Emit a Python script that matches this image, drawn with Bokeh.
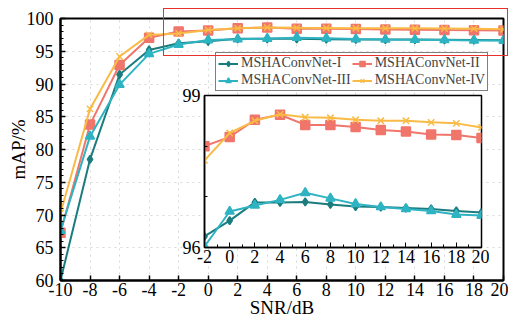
from bokeh.plotting import figure
from bokeh.models import Range1d, FixedTicker, Legend, LegendItem, Div
from bokeh.layouts import column
from bokeh.embed import file_html
from bokeh.resources import INLINE

snr = [-10, -8, -6, -4, -2, 0, 2, 4, 6, 8, 10, 12, 14, 16, 18, 20]
net1 = [60.0, 78.5, 91.45, 95.2, 96.22, 96.53, 96.89, 96.89, 96.90, 96.85, 96.81, 96.80, 96.78, 96.76, 96.72, 96.69]
net2 = [67.3, 83.8, 92.9, 97.05, 98.0, 98.18, 98.52, 98.62, 98.42, 98.42, 98.38, 98.32, 98.29, 98.23, 98.22, 98.16]
net3 = [67.6, 82.0, 89.9, 94.6, 96.02, 96.71, 96.83, 96.94, 97.08, 96.97, 96.86, 96.80, 96.76, 96.72, 96.65, 96.63]
net4 = [70.3, 86.2, 94.2, 97.5, 97.72, 98.26, 98.50, 98.63, 98.57, 98.56, 98.52, 98.50, 98.50, 98.47, 98.45, 98.37]
names = ["MSHAConvNet-I", "MSHAConvNet-II", "MSHAConvNet-III", "MSHAConvNet-IV"]

x_ticks = list(range(-10, 21, 2))
y_ticks = [60, 65, 70, 75, 80, 85, 90, 95, 100]
y_minor = list(range(60, 101))
inset_x_ticks = list(range(-2, 21, 2))
inset_x_minor = list(range(-2, 21))
inset_y_ticks = [96, 99]
inset_y_minor = [96, 97, 98, 99]
highlight = dict(left=-2.82, right=20.53, bottom=94.2, top=101.6)

colors = ["#1b7c7e", "#f0756b", "#2eb3c2", "#f9bb45"]
markers = ["diamond", "square", "triangle", "x"]
msizes = [8, 9, 9, 9]
series = [net1, net2, net3, net4]
FONT = "Liberation Serif"

# layout geometry (pixels)
FL, FT, FW, FH = 57, 18, 443, 262
XMIN, XMAX, YMIN, YMAX = -10, 20, 60, 100
# inset frame geometry (pixels)
IL, IT, IW, IH = 204, 95, 281, 152
IB_LEFT, IB_TOP, IB_RIGHT, IB_BOTTOM = 60, 12, 4, 20


def hyphen_labels(ticks):
    return {t: str(t) for t in ticks}


p = figure(frame_width=FW, frame_height=FH, output_backend="svg", toolbar_location=None,
           x_range=Range1d(XMIN, XMAX), y_range=Range1d(YMIN, YMAX),
           min_border_left=FL, min_border_right=8, min_border_top=FT, min_border_bottom=39)
p.outline_line_color = "black"
p.outline_line_width = 2
p.background_fill_color = "white"
p.border_fill_color = "white"

p.xaxis.ticker = FixedTicker(ticks=x_ticks)
p.yaxis.ticker = FixedTicker(ticks=y_ticks, minor_ticks=y_minor)
p.xaxis.major_label_overrides = hyphen_labels(x_ticks)
for ax in (p.xaxis[0], p.yaxis[0]):
    ax.axis_line_width = 2
    ax.axis_line_color = "black"
    ax.major_tick_in = 5
    ax.major_tick_out = 0
    ax.minor_tick_in = 3
    ax.minor_tick_out = 0
    ax.major_tick_line_width = 1.5
    ax.major_label_text_font = FONT
    ax.major_label_text_font_size = "18px"
    ax.major_label_text_color = "black"
    ax.axis_label_text_font = FONT
    ax.axis_label_text_font_size = "19px"
    ax.axis_label_text_font_style = "normal"
    ax.axis_label_text_color = "black"
p.xaxis.axis_label = "SNR/dB"
p.yaxis.axis_label = "mAP/%"
p.xaxis.major_label_standoff = 2
p.yaxis.major_label_standoff = 7
p.xaxis.axis_label_standoff = -2
p.yaxis.axis_label_standoff = -5

p.grid.grid_line_color = "#d8d8d8"
p.grid.grid_line_dash = "dotted"
p.grid.grid_line_width = 1

items = []
for ys, c, m, s, n in zip(series, colors, markers, msizes, names):
    r1 = p.line(snr, ys, line_color=c, line_width=2)
    r2 = p.scatter(snr, ys, marker=m, size=s, fill_color=c, line_color=c, line_width=1.5)
    items.append(LegendItem(label=n, renderers=[r1, r2]))

# column-major fill: first column I, III; second column II, IV
order = [items[0], items[2], items[1], items[3]]
legend = Legend(items=order, location=(155, 189), ncols=2,
                label_text_font=FONT, label_text_font_size="14px",
                glyph_width=20, glyph_height=13, label_standoff=3, label_height=13,
                spacing=1, padding=2, margin=0,
                border_line_color="black", border_line_width=1.5,
                background_fill_color="white", background_fill_alpha=1)
p.add_layout(legend, "center")

inset = figure(width=IB_LEFT + IW + IB_RIGHT, height=IB_TOP + IH + IB_BOTTOM,
               output_backend="svg", toolbar_location=None, sizing_mode="fixed",
               x_range=Range1d(-2, 20), y_range=Range1d(96, 99),
               min_border_left=IB_LEFT, min_border_right=IB_RIGHT,
               min_border_top=IB_TOP, min_border_bottom=IB_BOTTOM,
               styles={"position": "absolute", "left": f"{IL - IB_LEFT}px", "top": f"{IT - IB_TOP}px"})
inset.outline_line_color = "black"
inset.outline_line_width = 1.5
inset.background_fill_color = "white"
inset.border_fill_color = "white"
inset.border_fill_alpha = 0
inset.grid.visible = False
inset.xaxis.ticker = FixedTicker(ticks=inset_x_ticks, minor_ticks=inset_x_minor)
inset.yaxis.ticker = FixedTicker(ticks=inset_y_ticks, minor_ticks=inset_y_minor)
inset.xaxis.major_label_overrides = hyphen_labels(inset_x_ticks)
for ax in (inset.xaxis[0], inset.yaxis[0]):
    ax.axis_line_width = 1.5
    ax.major_tick_in = 5
    ax.major_tick_out = 0
    ax.minor_tick_in = 3
    ax.minor_tick_out = 0
    ax.major_label_text_font = FONT
    ax.major_label_text_font_size = "18px"
    ax.major_label_text_color = "black"
inset.xaxis.major_label_standoff = 2
inset.yaxis.major_label_standoff = 4

for ys, c, m, s in zip(series, colors, markers, msizes):
    inset.line(snr[4:], ys[4:], line_color=c, line_width=2)
    inset.scatter(snr[4:], ys[4:], marker=m, size=s, fill_color=c, line_color=c, line_width=1.5)

# highlight box (drawn outside the frame, like an unclipped annotation)
bx0 = FL + (highlight["left"] - XMIN) / (XMAX - XMIN) * FW
bx1 = FL + (highlight["right"] - XMIN) / (XMAX - XMIN) * FW
by0 = FT + (YMAX - highlight["top"]) / (YMAX - YMIN) * FH
by1 = FT + (YMAX - highlight["bottom"]) / (YMAX - YMIN) * FH
box = Div(text="", width=int(round(bx1 - bx0)), height=int(round(by1 - by0)), margin=0,
          styles={"position": "absolute", "left": f"{bx0:.1f}px", "top": f"{by0:.1f}px",
                  "border": "1.5px solid #e8302c", "box-sizing": "border-box",
                  "background": "transparent", "pointer-events": "none"})

layout = column(p, inset, box)
open("out.html", "w").write(file_html(layout, INLINE))
